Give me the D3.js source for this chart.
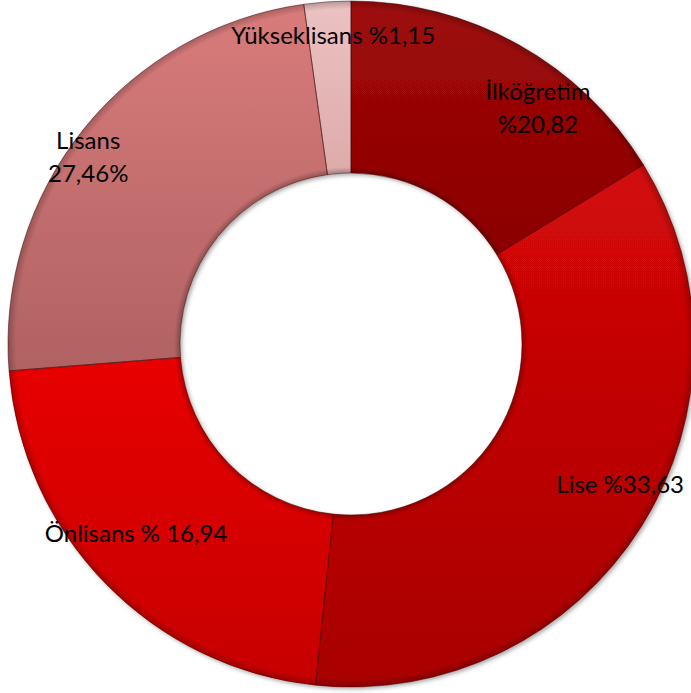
<!DOCTYPE html>
<html>
<head>
<meta charset="utf-8">
<script src="https://cdn.jsdelivr.net/npm/d3@7"></script>
<style>
  html, body { margin: 0; padding: 0; background: #fff; }
  svg { display: block; }
  .lbl { font-family: Lato, "Open Sans", sans-serif; font-size: 24px; fill: #000; }
</style>
</head>
<body>
<svg id="chart" width="691" height="693"></svg>
<script>
"use strict";
// categories in drawing order (clockwise from 12 o'clock)
const categories = ["İlköğretim", "Lise", "Önlisans", "Lisans", "Yükseklisans"];
// slice sizes as drawn in the picture (%)
const sliceValues = [16.25, 35.4, 22.1, 24.05, 2.2];
// label text as printed on the chart
const labelLines = [
    ["İlköğretim", "%20,82"],
    ["Lise %33,63"],
    ["Önlisans % 16,94"],
    ["Lisans", "27,46%"],
    ["Yükseklisans %1,15"]
];
// top / bottom colours of each slice
const topColors = ["#9e0a0a", "#d40808", "#e80404", "#d97b7b", "#ecc2c2"];
const bottomColors = ["#8c0000", "#a80000", "#c60202", "#b06262", "#deaaaa"];

// label placement, angle in degrees (clockwise from top) and distance from centre
const labelAngle = [38.4, 117.7, 228.5, 305.3, 356.7];
const labelDist = [301, 304, 287, 322, 309];

const width = 691, height = 693;
const cx = 351, cy = 344;
const outerR = 343, innerR = 171;

let svg = d3.select("#chart");
let defs = svg.append("defs");

// drop shadow under the ring
let shadow = defs.append("filter").attr("id", "shadow")
    .attr("x", "-10%").attr("y", "-10%").attr("width", "120%").attr("height", "120%");
shadow.append("feDropShadow")
    .attr("dx", 2).attr("dy", 2).attr("stdDeviation", 2)
    .attr("flood-color", "#000").attr("flood-opacity", 0.35);

categories.forEach((c, i) => {
    let grad = defs.append("linearGradient").attr("id", "grad" + i)
        .attr("x1", 0).attr("y1", 0).attr("x2", 0).attr("y2", 1);
    grad.append("stop").attr("offset", "0%").attr("stop-color", topColors[i]);
    grad.append("stop").attr("offset", "100%").attr("stop-color", bottomColors[i]);
});

// darker rim at inner and outer edge (bevel look)
let rim = defs.append("radialGradient").attr("id", "rim")
    .attr("gradientUnits", "userSpaceOnUse")
    .attr("cx", 0).attr("cy", 0).attr("r", outerR);
rim.append("stop").attr("offset", innerR / outerR).attr("stop-color", "#000").attr("stop-opacity", 0.25);
rim.append("stop").attr("offset", (innerR + 6) / outerR).attr("stop-color", "#000").attr("stop-opacity", 0);
rim.append("stop").attr("offset", (outerR - 8) / outerR).attr("stop-color", "#000").attr("stop-opacity", 0);
rim.append("stop").attr("offset", 1).attr("stop-color", "#000").attr("stop-opacity", 0.22);

let pie = d3.pie().sort(null).value(d => d);
let arcs = pie(sliceValues);

let arc = d3.arc().innerRadius(innerR).outerRadius(outerR);

let g = svg.append("g").attr("transform", "translate(" + cx + "," + cy + ")");

let ring = g.append("g").attr("filter", "url(#shadow)");
ring.selectAll("path.slice")
    .data(arcs)
    .enter().append("path")
    .attr("class", "slice")
    .attr("d", arc)
    .attr("fill", (d, i) => "url(#grad" + i + ")");

// bevel overlay
g.append("path")
    .attr("d", d3.arc().innerRadius(innerR).outerRadius(outerR).startAngle(0).endAngle(2 * Math.PI)())
    .attr("fill", "url(#rim)");

// slice borders
g.selectAll("path.edge")
    .data(arcs)
    .enter().append("path")
    .attr("class", "edge")
    .attr("d", arc)
    .attr("fill", "none")
    .attr("stroke", "#3a0000")
    .attr("stroke-opacity", 0.45)
    .attr("stroke-width", 1);

// labels
let lineH = 33;
let labels = g.selectAll("text.lbl")
    .data(labelLines)
    .enter().append("text")
    .attr("class", "lbl")
    .attr("text-anchor", "middle")
    .attr("transform", (d, i) => {
        let a = labelAngle[i] * Math.PI / 180;
        let x = Math.sin(a) * labelDist[i];
        let y = -Math.cos(a) * labelDist[i];
        return "translate(" + x + "," + y + ")";
    });

labels.selectAll("tspan")
    .data(d => d.map((t, k) => ({t: t, k: k, n: d.length})))
    .enter().append("tspan")
    .attr("x", 0)
    .attr("y", d => 8 + (d.k - (d.n - 1) / 2) * lineH)
    .text(d => d.t);
</script>
</body>
</html>
